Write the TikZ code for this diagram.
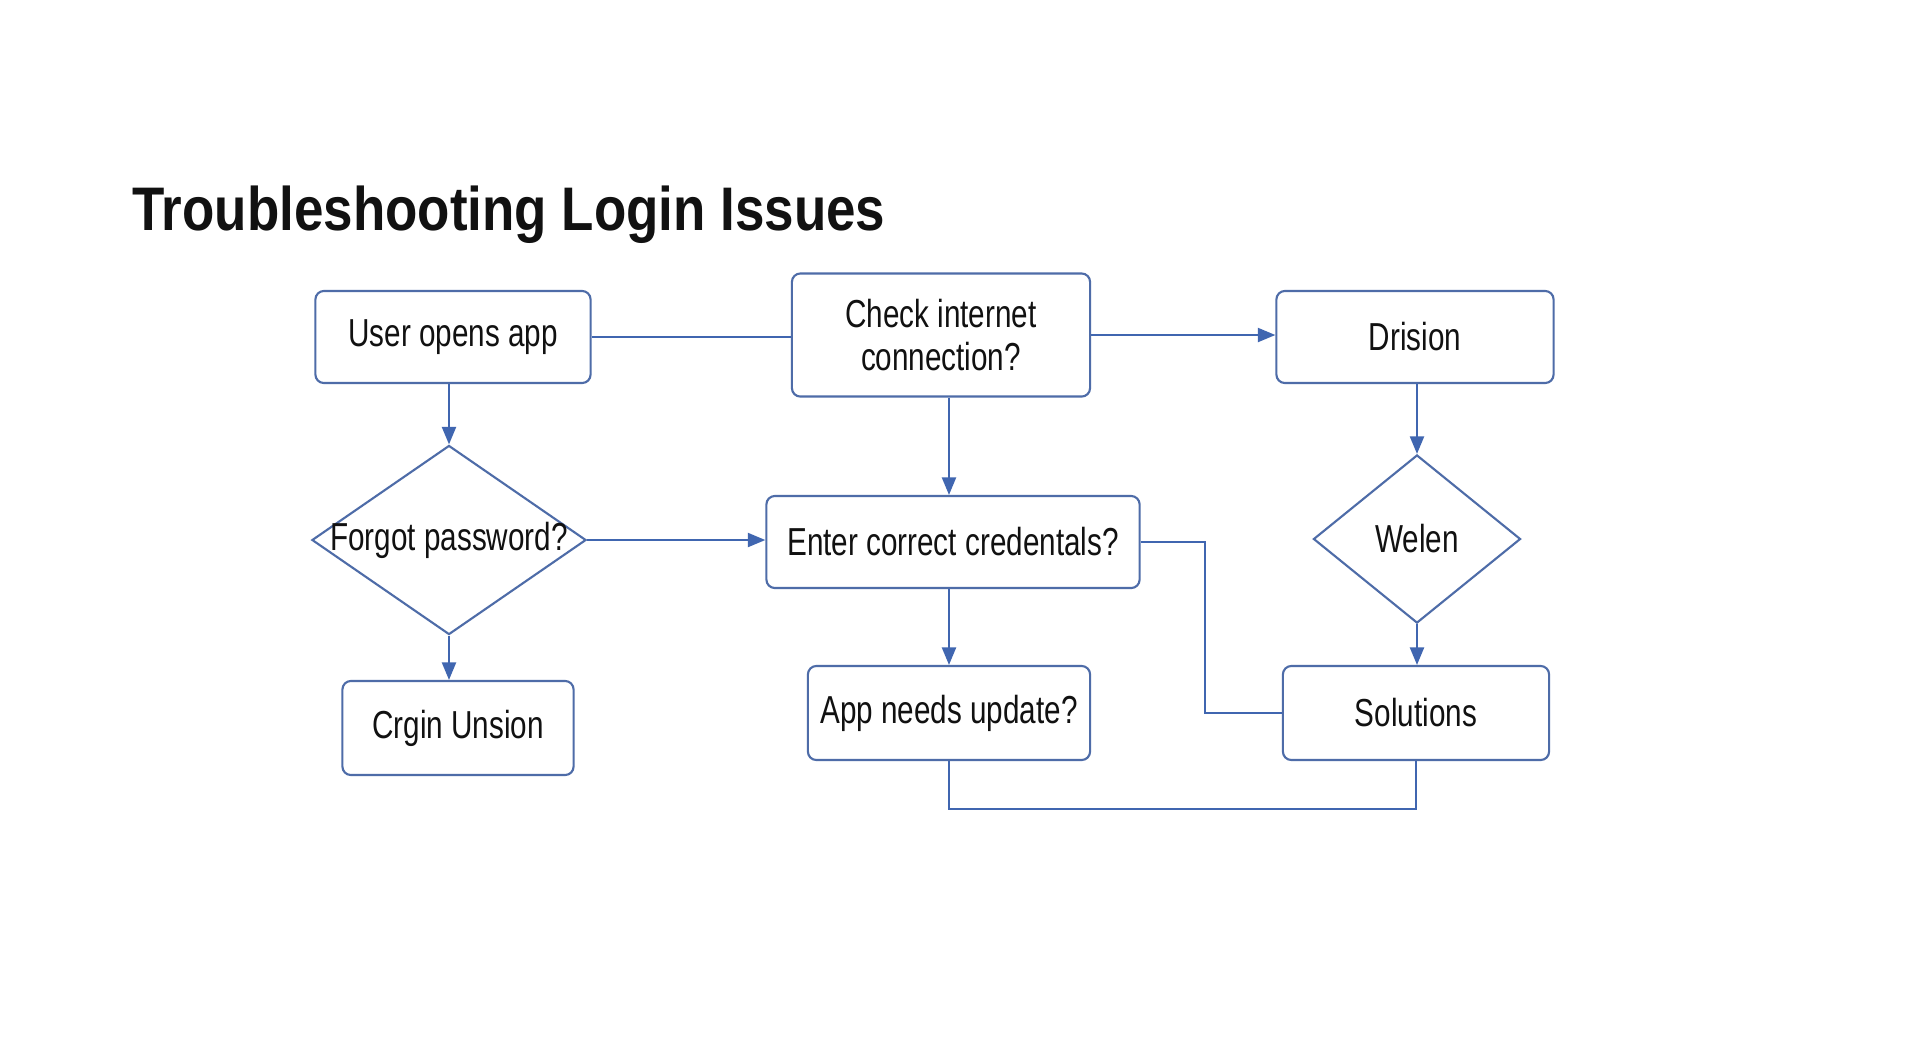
\documentclass[tikz,border=0pt]{standalone}
\usepackage{fontspec}
\setmainfont[FakeStretch=0.76]{Liberation Sans}
\newfontfamily\titlefont[FakeStretch=0.86]{Liberation Sans}
\usetikzlibrary{shapes.geometric}
\usetikzlibrary{arrows.meta}
\definecolor{boxblue}{RGB}{78,108,168}
\definecolor{lineblue}{RGB}{64,102,176}
\definecolor{inkblack}{RGB}{17,17,17}

\begin{document}
\begin{tikzpicture}[x=0.01cm, y=0.01cm,
  >={Triangle[length=5pt,width=4pt]},
  box/.style={draw=boxblue, line width=0.6pt, rounded corners=2.4pt, align=center,
    text=inkblack, font=\fontsize{11.1}{12}\selectfont, inner sep=0pt},
  decision/.style={draw=boxblue, line width=0.6pt, diamond, inner sep=0pt,
    text=inkblack, font=\fontsize{11.1}{12}\selectfont},
  line/.style={draw=lineblue, line width=0.6pt}]
\useasboundingbox [fill=white] (0,0) rectangle (1920,-1047);

\node [anchor=base west, text=inkblack, font=\titlefont\bfseries\fontsize{17.5}{20}\selectfont] (title) at (120,-230) {Troubleshooting Login Issues};

% boxes
\node [box, minimum width=2.75cm, minimum height=0.92cm] (user) at (453,-337) {User opens app};
\node [box, minimum width=2.98cm, minimum height=1.23cm] (check) at (941,-335) {Check internet\\connection?};
\node [box, minimum width=2.77cm, minimum height=0.92cm] (drision) at (1415,-337) {Drision};
\node [decision, minimum width=2.74cm, minimum height=1.89cm] (forgot) at (449,-540) {\makebox[0pt]{Forgot password?}};
\node [box, minimum width=3.73cm, minimum height=0.92cm] (enter) at (953,-542) {Enter correct credentals?};
\node [decision, minimum width=2.07cm, minimum height=1.68cm] (welen) at (1417,-539) {\makebox[0pt]{Welen}};
\node [box, minimum width=2.31cm, minimum height=0.94cm] (crgin) at (458,-728) {Crgin Unsion};
\node [box, minimum width=2.82cm, minimum height=0.94cm] (app) at (949,-713) {App needs update?};
\node [box, minimum width=2.66cm, minimum height=0.94cm] (solutions) at (1416,-713) {Solutions};

% connectors
\draw [line] (user.east) -- (user.east -| check.west);
\draw [line, ->] (check.east) -- (check.east -| drision.west);
\draw [line, ->] (user.south -| forgot.north) -- (forgot.north);
\draw [line, ->] (check.south -| app.north) -- (enter.north -| app.north);
\draw [line, ->] (forgot.east) -- (forgot.east -| enter.west);
\draw [line, ->] (forgot.south) -- (forgot.south |- crgin.north);
\draw [line, ->] (enter.south -| app.north) -- (app.north);
\draw [line, ->] (drision.south -| welen.north) -- (welen.north);
\draw [line, ->] (welen.south) -- (welen.south |- solutions.north);
\draw [line] (enter.east) -- ++(64,0) |- (solutions.west);
\draw [line] (app.south) -- ++(0,-48) -| (solutions.south);

\end{tikzpicture}
\end{document}
